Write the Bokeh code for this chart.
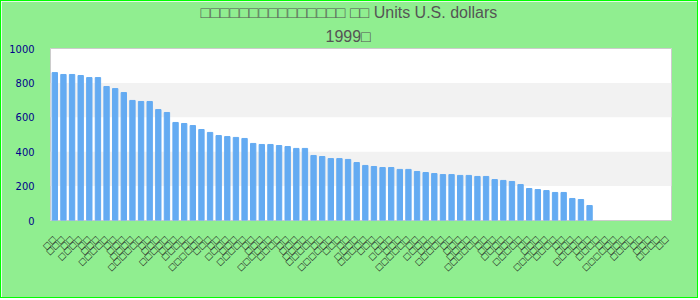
import math
from bokeh.plotting import figure
from bokeh.models import Title, BoxAnnotation, FixedTicker, ColumnDataSource
from bokeh.embed import file_html
from bokeh.resources import INLINE

title_line1 = "□□□□□□□□□□□□□□□ □□ Units U.S. dollars"
title_line2 = "1999□"

categories = [
    "□□", "□□□", "□□", "□□□□", "□□", "□□□", "□□□□□", "□□", "□□□", "□□□□",
    "□□□□□□", "□□", "□□□", "□□□□□", "□□□", "□□□□", "□□", "□□□□□□", "□□□", "□□",
    "□□□□", "□□□", "□□□□□", "□□", "□□□", "□□□□□□", "□□□□", "□□", "□□□", "□□□□",
    "□□□□□", "□□", "□□□□□□", "□□□", "□□", "□□□□", "□□□□□", "□□□", "□□", "□□□□",
    "□□□", "□□□□□□", "□□", "□□□□", "□□□", "□□□□□", "□□", "□□□", "□□□□", "□□□□□□",
    "□□", "□□□", "□□□□", "□□□", "□□□□□", "□□", "□□□", "□□□□□□", "□□□□", "□□",
    "□□□", "□□□□□", "□□□", "□□□□", "□□", "□□□□□□", "□□□", "□□□□", "□□", "□□□",
    "□□□□", "□□",
]

values = [
    860, 849, 849, 843, 831, 831, 779, 767, 744, 698,
    692, 692, 645, 628, 570, 564, 552, 529, 512, 494,
    488, 483, 477, 448, 442, 442, 436, 430, 419, 419,
    378, 372, 360, 360, 355, 337, 320, 314, 308, 308,
    297, 297, 285, 279, 273, 267, 267, 262, 262, 256,
    256, 238, 233, 227, 209, 186, 180, 174, 163, 163,
    128, 122, 87, None, None, None, None, None, None, None,
    None, None,
]

y_ticks = [0, 200, 400, 600, 800, 1000]

xs = list(range(len(categories)))
tops = [float("nan") if v is None else v for v in values]
src = ColumnDataSource(dict(x=xs, top=tops))

p = figure(width=698, height=298,
           x_range=(-0.5, len(categories) - 0.5), y_range=(y_ticks[0], y_ticks[-1]),
           output_backend="svg", toolbar_location=None,
           min_border_left=49, min_border_right=28, min_border_top=47, min_border_bottom=79)
p.styles = {"border": "1px solid #00ff00"}
p.border_fill_color = "#90ee90"
p.background_fill_color = "white"
p.outline_line_color = "#cccccc"
p.outline_line_width = 1

for lo, hi in [(y_ticks[1], y_ticks[2]), (y_ticks[3], y_ticks[4])]:
    p.add_layout(BoxAnnotation(bottom=lo, top=hi, fill_color="#f2f2f2", fill_alpha=1,
                               line_color=None, level="underlay"))

p.vbar(x="x", top="top", width=0.62, source=src, color="#64abf2")

p.xgrid.visible = False
p.ygrid.grid_line_color = None

p.yaxis.ticker = FixedTicker(ticks=y_ticks)
p.yaxis.axis_line_color = None
p.yaxis.major_tick_line_color = None
p.yaxis.minor_tick_line_color = None
p.yaxis.major_label_text_color = "#00008b"
p.yaxis.major_label_text_font = "DejaVu Sans Condensed"
p.yaxis.major_label_text_font_size = "11px"
p.yaxis.major_label_standoff = 10

p.xaxis.ticker = FixedTicker(ticks=xs)
p.xaxis.major_label_overrides = {i: c for i, c in zip(xs, categories)}
p.xaxis.major_label_orientation = math.pi / 4
p.xaxis.axis_line_color = None
p.xaxis.major_tick_line_color = None
p.xaxis.minor_tick_line_color = None
p.xaxis.major_label_text_color = "#222222"
p.xaxis.major_label_text_font = "DejaVu Sans"
p.xaxis.major_label_text_font_size = "8px"
p.xaxis.major_label_standoff = 11

for txt, off, so in [(title_line2, 275, 8), (title_line1, 150, 1)]:
    p.add_layout(Title(text=txt, align="left", offset=off, standoff=so,
                       text_font="'Liberation Sans', 'DejaVu Sans'", text_font_size="16px",
                       text_font_style="normal", text_color="#555555"), "above")

open("out.html", "w").write(file_html(p, INLINE))
